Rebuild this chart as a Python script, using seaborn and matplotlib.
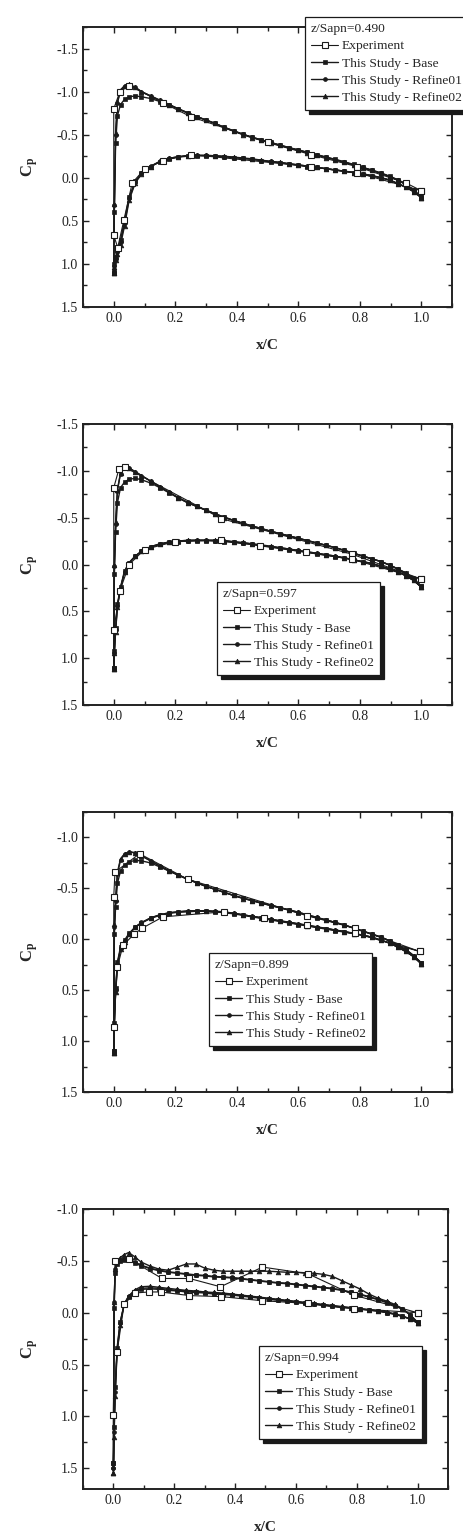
import seaborn as sns
import matplotlib.pyplot as plt
from matplotlib.ticker import MultipleLocator, FormatStrFormatter

# chordwise stations of the CFD surface points (leading edge -> trailing edge)
x_cfd = [0.0, 0.002, 0.006, 0.012, 0.022, 0.035, 0.05, 0.07, 0.09, 0.12, 0.15, 0.18, 0.21, 0.24, 0.27, 0.30,
         0.33, 0.36, 0.39, 0.42, 0.45, 0.48, 0.51, 0.54, 0.57, 0.60, 0.63, 0.66, 0.69, 0.72, 0.75, 0.78,
         0.81, 0.84, 0.87, 0.90, 0.925, 0.95, 0.975, 1.0]

series_labels = ['Experiment', 'This Study - Base', 'This Study - Refine01', 'This Study - Refine02']
span_labels = ['z/Sapn=0.490', 'z/Sapn=0.597', 'z/Sapn=0.899', 'z/Sapn=0.994']

######################################################################
# z/Span = 0.490
p1_base_up = [1.10, 0.40, -0.40, -0.72, -0.85, -0.91, -0.94, -0.95, -0.94, -0.92, -0.885, -0.845, -0.80, -0.755,
              -0.71, -0.67, -0.63, -0.585, -0.545, -0.505, -0.47, -0.44, -0.41, -0.38, -0.35, -0.325, -0.295,
              -0.27, -0.24, -0.215, -0.185, -0.155, -0.12, -0.09, -0.055, -0.015, 0.025, 0.075, 0.14, 0.22]
p1_base_lo = [1.08, 1.00, 0.92, 0.84, 0.72, 0.50, 0.22, 0.04, -0.05, -0.13, -0.185, -0.22, -0.24, -0.25, -0.255,
              -0.255, -0.25, -0.245, -0.235, -0.225, -0.215, -0.20, -0.185, -0.175, -0.16, -0.145, -0.13, -0.12,
              -0.105, -0.09, -0.075, -0.06, -0.04, -0.02, 0.0, 0.03, 0.07, 0.11, 0.16, 0.22]
p1_r01_up = [1.10, 0.32, -0.50, -0.87, -1.01, -1.065, -1.08, -1.05, -1.00, -0.95, -0.90, -0.85, -0.80, -0.755,
             -0.71, -0.67, -0.63, -0.585, -0.545, -0.505, -0.47, -0.44, -0.41, -0.38, -0.35, -0.32, -0.295,
             -0.265, -0.24, -0.21, -0.18, -0.15, -0.12, -0.085, -0.05, -0.01, 0.03, 0.08, 0.15, 0.23]
p1_r01_lo = [1.10, 1.02, 0.94, 0.86, 0.75, 0.53, 0.24, 0.05, -0.05, -0.135, -0.19, -0.225, -0.245, -0.255, -0.26,
             -0.26, -0.255, -0.245, -0.235, -0.225, -0.215, -0.20, -0.19, -0.175, -0.16, -0.15, -0.135, -0.12,
             -0.105, -0.09, -0.075, -0.06, -0.045, -0.025, 0.0, 0.03, 0.07, 0.11, 0.16, 0.23]
p1_r02_up = [1.10, 0.30, -0.52, -0.88, -1.02, -1.07, -1.085, -1.05, -1.00, -0.95, -0.90, -0.85, -0.80, -0.75,
             -0.71, -0.67, -0.63, -0.58, -0.54, -0.50, -0.465, -0.435, -0.405, -0.375, -0.345, -0.32, -0.29,
             -0.265, -0.235, -0.21, -0.18, -0.15, -0.115, -0.085, -0.05, -0.01, 0.03, 0.08, 0.14, 0.23]
p1_r02_lo = [1.10, 1.03, 0.95, 0.88, 0.78, 0.56, 0.26, 0.06, -0.04, -0.13, -0.19, -0.225, -0.245, -0.255, -0.26,
             -0.26, -0.255, -0.25, -0.24, -0.23, -0.22, -0.205, -0.19, -0.18, -0.165, -0.15, -0.135, -0.12,
             -0.105, -0.09, -0.075, -0.06, -0.045, -0.025, 0.0, 0.03, 0.07, 0.11, 0.16, 0.23]
p1_exp_x_up = [0.0, 0.02, 0.05, 0.16, 0.25, 0.50, 0.64, 0.79, 0.95, 1.0]
p1_exp_up = [-0.80, -1.00, -1.07, -0.87, -0.71, -0.41, -0.27, -0.13, 0.06, 0.15]
p1_exp_x_lo = [0.0, 0.013, 0.033, 0.06, 0.10, 0.16, 0.25, 0.64, 0.79, 1.0]
p1_exp_lo = [0.67, 0.81, 0.49, 0.06, -0.10, -0.20, -0.27, -0.13, -0.06, 0.15]

######################################################################
# z/Span = 0.597
p2_base_up = [1.10, 0.10, -0.35, -0.66, -0.82, -0.88, -0.91, -0.92, -0.905, -0.87, -0.82, -0.765, -0.71, -0.66,
              -0.62, -0.58, -0.54, -0.505, -0.47, -0.44, -0.41, -0.385, -0.355, -0.33, -0.305, -0.28, -0.255,
              -0.23, -0.205, -0.18, -0.15, -0.12, -0.09, -0.06, -0.03, 0.01, 0.05, 0.09, 0.15, 0.23]
p2_base_lo = [1.10, 0.92, 0.68, 0.42, 0.24, 0.07, -0.02, -0.09, -0.14, -0.185, -0.215, -0.235, -0.245, -0.25,
              -0.255, -0.255, -0.25, -0.245, -0.235, -0.225, -0.215, -0.20, -0.19, -0.175, -0.16, -0.145, -0.13,
              -0.115, -0.10, -0.085, -0.07, -0.05, -0.03, -0.01, 0.02, 0.05, 0.08, 0.12, 0.17, 0.23]
p2_r01_up = [1.12, 0.02, -0.43, -0.79, -0.97, -1.035, -1.03, -0.99, -0.95, -0.89, -0.83, -0.77, -0.715, -0.665,
             -0.62, -0.58, -0.54, -0.505, -0.47, -0.44, -0.41, -0.385, -0.355, -0.33, -0.305, -0.28, -0.255,
             -0.23, -0.205, -0.18, -0.15, -0.12, -0.09, -0.06, -0.03, 0.01, 0.05, 0.10, 0.16, 0.24]
p2_r01_lo = [1.12, 0.94, 0.70, 0.44, 0.25, 0.08, -0.02, -0.09, -0.14, -0.19, -0.22, -0.24, -0.25, -0.255, -0.26,
             -0.26, -0.255, -0.25, -0.24, -0.23, -0.22, -0.205, -0.19, -0.18, -0.165, -0.15, -0.135, -0.12,
             -0.105, -0.09, -0.07, -0.05, -0.03, -0.01, 0.02, 0.05, 0.08, 0.12, 0.17, 0.24]
p2_r02_up = [1.12, 0.0, -0.45, -0.80, -0.98, -1.04, -1.03, -0.99, -0.95, -0.89, -0.83, -0.77, -0.71, -0.66,
             -0.62, -0.58, -0.54, -0.50, -0.47, -0.44, -0.41, -0.38, -0.355, -0.33, -0.305, -0.28, -0.255,
             -0.23, -0.205, -0.18, -0.15, -0.12, -0.09, -0.06, -0.03, 0.01, 0.05, 0.09, 0.15, 0.24]
p2_r02_lo = [1.12, 0.95, 0.72, 0.45, 0.26, 0.08, -0.01, -0.09, -0.14, -0.19, -0.22, -0.24, -0.25, -0.26, -0.26,
             -0.26, -0.26, -0.255, -0.245, -0.235, -0.22, -0.21, -0.195, -0.18, -0.165, -0.15, -0.135, -0.12,
             -0.105, -0.09, -0.07, -0.05, -0.03, -0.01, 0.02, 0.05, 0.08, 0.12, 0.17, 0.24]
p2_exp_x_up = [0.0, 0.017, 0.035, 0.35, 0.775, 1.0]
p2_exp_up = [-0.82, -1.02, -1.04, -0.49, -0.11, 0.155]
p2_exp_x_lo = [0.0, 0.02, 0.05, 0.10, 0.20, 0.35, 0.475, 0.625, 0.775, 1.0]
p2_exp_lo = [0.70, 0.28, 0.0, -0.16, -0.245, -0.26, -0.20, -0.13, -0.055, 0.155]

######################################################################
# z/Span = 0.899
p3_base_up = [1.10, -0.05, -0.32, -0.55, -0.67, -0.73, -0.76, -0.775, -0.77, -0.75, -0.71, -0.67, -0.63, -0.59,
              -0.555, -0.52, -0.49, -0.46, -0.43, -0.405, -0.38, -0.355, -0.33, -0.31, -0.285, -0.26, -0.235,
              -0.21, -0.19, -0.165, -0.14, -0.11, -0.08, -0.05, -0.02, 0.02, 0.06, 0.10, 0.16, 0.23]
p3_base_lo = [1.10, 0.82, 0.48, 0.22, 0.08, 0.01, -0.06, -0.12, -0.16, -0.205, -0.235, -0.255, -0.265, -0.27,
              -0.275, -0.275, -0.27, -0.26, -0.25, -0.235, -0.22, -0.205, -0.19, -0.175, -0.16, -0.145, -0.13,
              -0.115, -0.10, -0.085, -0.07, -0.055, -0.04, -0.02, 0.01, 0.04, 0.08, 0.12, 0.17, 0.23]
p3_r01_up = [1.12, -0.12, -0.38, -0.64, -0.78, -0.835, -0.855, -0.85, -0.82, -0.77, -0.72, -0.675, -0.63, -0.59,
             -0.555, -0.52, -0.49, -0.46, -0.43, -0.405, -0.38, -0.355, -0.335, -0.31, -0.29, -0.265, -0.24,
             -0.215, -0.19, -0.165, -0.14, -0.11, -0.08, -0.05, -0.02, 0.02, 0.06, 0.11, 0.17, 0.24]
p3_r01_lo = [1.12, 0.84, 0.50, 0.24, 0.09, 0.02, -0.05, -0.12, -0.165, -0.21, -0.24, -0.26, -0.27, -0.275, -0.28,
             -0.28, -0.275, -0.265, -0.255, -0.24, -0.225, -0.21, -0.195, -0.18, -0.165, -0.15, -0.135, -0.12,
             -0.105, -0.09, -0.075, -0.055, -0.04, -0.02, 0.01, 0.04, 0.08, 0.12, 0.17, 0.24]
p3_r02_up = [1.12, -0.15, -0.40, -0.66, -0.79, -0.84, -0.86, -0.85, -0.82, -0.77, -0.72, -0.67, -0.63, -0.59,
             -0.555, -0.52, -0.49, -0.46, -0.43, -0.40, -0.38, -0.355, -0.335, -0.31, -0.29, -0.265, -0.24,
             -0.215, -0.19, -0.165, -0.14, -0.11, -0.08, -0.05, -0.02, 0.02, 0.06, 0.10, 0.16, 0.24]
p3_r02_lo = [1.12, 0.85, 0.52, 0.25, 0.10, 0.03, -0.05, -0.12, -0.16, -0.21, -0.24, -0.26, -0.27, -0.28, -0.28,
             -0.28, -0.275, -0.27, -0.255, -0.24, -0.225, -0.21, -0.195, -0.18, -0.165, -0.15, -0.135, -0.12,
             -0.105, -0.09, -0.075, -0.055, -0.04, -0.02, 0.01, 0.04, 0.08, 0.12, 0.17, 0.24]
p3_exp_x_up = [0.0, 0.004, 0.084, 0.24, 0.63, 0.783, 0.995]
p3_exp_up = [-0.42, -0.66, -0.84, -0.59, -0.23, -0.11, 0.12]
p3_exp_x_lo = [0.0, 0.012, 0.03, 0.066, 0.093, 0.16, 0.358, 0.487, 0.63, 0.783, 0.995]
p3_exp_lo = [0.86, 0.27, 0.06, -0.05, -0.11, -0.22, -0.27, -0.21, -0.14, -0.06, 0.12]

######################################################################
# z/Span = 0.994
p4_base_up = [1.45, -0.05, -0.38, -0.47, -0.50, -0.51, -0.51, -0.48, -0.455, -0.425, -0.405, -0.39, -0.38, -0.37,
              -0.36, -0.355, -0.345, -0.34, -0.335, -0.325, -0.315, -0.305, -0.295, -0.285, -0.28, -0.27, -0.26,
              -0.25, -0.24, -0.23, -0.215, -0.195, -0.175, -0.15, -0.125, -0.095, -0.065, -0.035, 0.02, 0.09]
p4_base_lo = [1.45, 1.10, 0.72, 0.34, 0.09, -0.07, -0.15, -0.20, -0.225, -0.23, -0.225, -0.215, -0.21, -0.20,
              -0.195, -0.19, -0.18, -0.175, -0.17, -0.16, -0.15, -0.14, -0.13, -0.12, -0.11, -0.10, -0.09, -0.08,
              -0.07, -0.06, -0.05, -0.045, -0.035, -0.025, -0.015, 0.0, 0.015, 0.035, 0.06, 0.09]
p4_r01_up = [1.50, -0.10, -0.42, -0.49, -0.51, -0.52, -0.52, -0.49, -0.46, -0.43, -0.41, -0.395, -0.385, -0.375,
             -0.365, -0.36, -0.35, -0.345, -0.34, -0.33, -0.32, -0.31, -0.30, -0.29, -0.285, -0.275, -0.265,
             -0.255, -0.245, -0.235, -0.22, -0.20, -0.18, -0.155, -0.13, -0.10, -0.07, -0.04, 0.02, 0.10]
p4_r01_lo = [1.50, 1.15, 0.76, 0.36, 0.10, -0.08, -0.16, -0.21, -0.235, -0.24, -0.235, -0.225, -0.215, -0.21,
             -0.20, -0.195, -0.19, -0.18, -0.175, -0.165, -0.155, -0.145, -0.135, -0.125, -0.115, -0.105, -0.095,
             -0.085, -0.075, -0.065, -0.055, -0.045, -0.035, -0.025, -0.015, 0.0, 0.015, 0.035, 0.06, 0.10]
p4_r02_up = [1.55, -0.10, -0.42, -0.50, -0.53, -0.56, -0.58, -0.54, -0.49, -0.45, -0.42, -0.41, -0.44, -0.47,
             -0.47, -0.43, -0.41, -0.40, -0.40, -0.40, -0.40, -0.40, -0.40, -0.395, -0.39, -0.39, -0.385, -0.38,
             -0.37, -0.35, -0.31, -0.27, -0.23, -0.18, -0.14, -0.11, -0.08, -0.04, 0.02, 0.10]
p4_r02_lo = [1.55, 1.20, 0.80, 0.38, 0.12, -0.08, -0.16, -0.22, -0.25, -0.255, -0.245, -0.235, -0.225, -0.215,
             -0.21, -0.20, -0.195, -0.19, -0.18, -0.17, -0.16, -0.15, -0.14, -0.13, -0.12, -0.11, -0.10, -0.09,
             -0.08, -0.07, -0.06, -0.05, -0.04, -0.03, -0.02, -0.005, 0.01, 0.03, 0.06, 0.10]
p4_exp_x_up = [0.005, 0.05, 0.16, 0.25, 0.352, 0.49, 0.64, 0.79, 1.0]
p4_exp_up = [-0.50, -0.52, -0.33, -0.33, -0.25, -0.44, -0.375, -0.17, 0.0]
p4_exp_x_lo = [0.0, 0.012, 0.035, 0.07, 0.117, 0.155, 0.25, 0.355, 0.49, 0.64, 0.79, 1.0]
p4_exp_lo = [0.99, 0.38, -0.08, -0.19, -0.20, -0.20, -0.165, -0.155, -0.115, -0.09, -0.04, 0.0]

######################################################################
# Style
sns.set_theme(style='ticks')
plt.rcParams['font.family'] = ['Liberation Serif', 'DejaVu Serif']
plt.rcParams['mathtext.fontset'] = 'custom'
plt.rcParams['mathtext.rm'] = 'Liberation Serif'
plt.rcParams['mathtext.bf'] = 'Liberation Serif:bold'
plt.rcParams['axes.unicode_minus'] = False

W, H = 464, 1532
fig = plt.figure(figsize=(W / 100, H / 100), dpi=100)

# axes boxes in pixels: left, top, right, bottom
boxes = [(83, 27, 452, 307), (83, 424, 452, 705), (83, 812, 452, 1092), (83, 1209, 448, 1489)]
ylims = [(1.5, -1.75), (1.5, -1.5), (1.5, -1.25), (1.7, -1.0)]
# legend upper-left corners in pixels
legend_pos = [(305, 17), (217, 582), (209, 953), (259, 1346)]


def loop(x_up, cp_up, x_lo, cp_lo):
    # go along the upper surface from TE to LE, then the lower surface back to TE
    return list(x_up[::-1]) + list(x_lo), list(cp_up[::-1]) + list(cp_lo)


def draw_panel(ax, exp, base, r01, r02, title, ylim, leg_xy):
    cfd_styles = [(base, 's', 2.8, series_labels[1]),
                  (r01, 'o', 2.8, series_labels[2]),
                  (r02, '^', 3.4, series_labels[3])]
    for (up, lo), mk, ms, lab in cfd_styles:
        xs, ys = loop(x_cfd, up, x_cfd, lo)
        sns.lineplot(x=xs, y=ys, sort=False, estimator=None, ax=ax, color='k', linewidth=1.0,
                     marker=mk, markersize=ms, markeredgecolor='k', markerfacecolor='k',
                     markeredgewidth=0.5, label=lab)
    xs, ys = loop(*exp)
    sns.lineplot(x=xs, y=ys, sort=False, estimator=None, ax=ax, color='k', linewidth=0.8,
                 marker='s', markersize=4.2, markeredgecolor='k', markerfacecolor='white',
                 markeredgewidth=0.8, label=series_labels[0])

    ax.set_xlim(-0.1, 1.1)
    ax.set_ylim(*ylim)
    ax.xaxis.set_major_locator(MultipleLocator(0.2))
    ax.xaxis.set_minor_locator(MultipleLocator(0.1))
    ax.yaxis.set_major_locator(MultipleLocator(0.5))
    ax.yaxis.set_minor_locator(MultipleLocator(0.25))
    ax.xaxis.set_major_formatter(FormatStrFormatter('%.1f'))
    ax.yaxis.set_major_formatter(FormatStrFormatter('%.1f'))
    ax.tick_params(which='both', direction='in', top=True, right=True, width=1.0, labelsize=10,
                   colors='#222222')
    ax.tick_params(which='major', length=4)
    ax.tick_params(which='minor', length=3)
    for sp in ax.spines.values():
        sp.set_linewidth(1.4)
        sp.set_color('#222222')
    ax.set_xlabel('x/C', fontsize=11, fontweight='bold', labelpad=10)
    ax.set_ylabel(r'$\mathbf{C_p}$', fontsize=12, labelpad=12)

    handles, labels = ax.get_legend_handles_labels()
    order = [labels.index(l) for l in series_labels]
    leg = ax.legend([handles[i] for i in order], [labels[i] for i in order], title=title,
                    loc='upper left', bbox_to_anchor=(leg_xy[0] / W, 1 - leg_xy[1] / H),
                    bbox_transform=fig.transFigure, borderaxespad=0, fontsize=9.7, title_fontsize=9.7,
                    alignment='left', frameon=True, fancybox=False, framealpha=1, edgecolor='k',
                    handlelength=2.0, handletextpad=0.3, labelspacing=0.36, borderpad=0.45,
                    shadow={'ox': 3, 'oy': -3, 'facecolor': 'k', 'edgecolor': 'k', 'alpha': 1})
    leg.get_frame().set_linewidth(0.9)


panels = [
    ((p1_exp_x_up, p1_exp_up, p1_exp_x_lo, p1_exp_lo), (p1_base_up, p1_base_lo), (p1_r01_up, p1_r01_lo),
     (p1_r02_up, p1_r02_lo)),
    ((p2_exp_x_up, p2_exp_up, p2_exp_x_lo, p2_exp_lo), (p2_base_up, p2_base_lo), (p2_r01_up, p2_r01_lo),
     (p2_r02_up, p2_r02_lo)),
    ((p3_exp_x_up, p3_exp_up, p3_exp_x_lo, p3_exp_lo), (p3_base_up, p3_base_lo), (p3_r01_up, p3_r01_lo),
     (p3_r02_up, p3_r02_lo)),
    ((p4_exp_x_up, p4_exp_up, p4_exp_x_lo, p4_exp_lo), (p4_base_up, p4_base_lo), (p4_r01_up, p4_r01_lo),
     (p4_r02_up, p4_r02_lo)),
]

for i, (exp, base, r01, r02) in enumerate(panels):
    l, t, r, b = boxes[i]
    ax = fig.add_axes([l / W, 1 - b / H, (r - l) / W, (b - t) / H])
    draw_panel(ax, exp, base, r01, r02, span_labels[i], ylims[i], legend_pos[i])

fig.savefig('out.png', dpi=100)
